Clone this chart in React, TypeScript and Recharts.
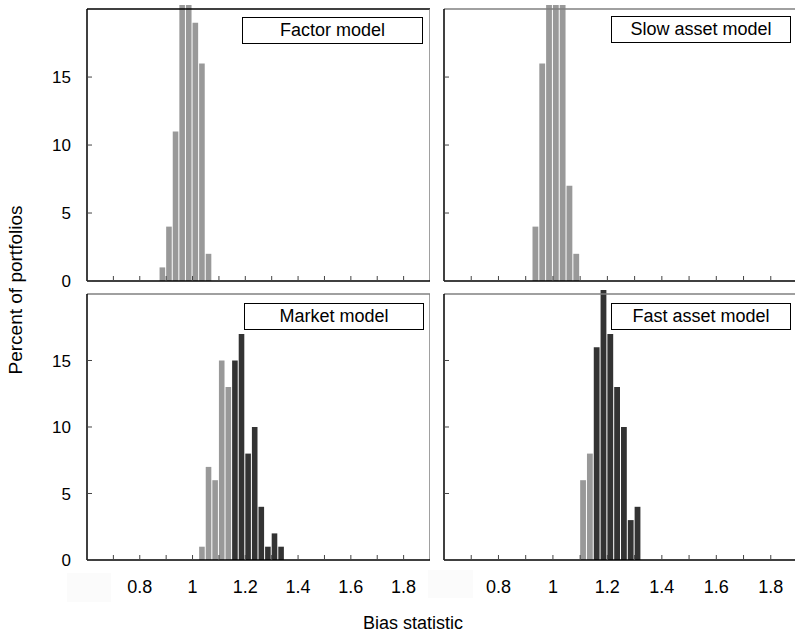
import React from "react";
import { ComposedChart, Bar, Cell, XAxis, YAxis, ReferenceLine } from "recharts";

// histogram bins are 0.025 wide, values are left edges
const BIN = 0.025;
const CUTOFF = 1.15;

const factorBins = [0.875, 0.9, 0.925, 0.95, 0.975, 1.0, 1.025, 1.05];
const factorPct = [1, 4, 11, 24, 23, 19, 16, 2];

const slowBins = [0.925, 0.95, 0.975, 1.0, 1.025, 1.05, 1.075];
const slowPct = [4, 16, 24, 24, 23, 7, 2];

const marketBins = [1.025, 1.05, 1.075, 1.1, 1.125, 1.15, 1.175, 1.2, 1.225, 1.25, 1.275, 1.3, 1.325];
const marketPct = [1, 7, 6, 15, 13, 15, 17, 8, 10, 4, 1, 2, 1];

const fastBins = [1.1, 1.125, 1.15, 1.175, 1.2, 1.225, 1.25, 1.275, 1.3];
const fastPct = [6, 8, 16, 23, 17, 13, 10, 3, 4];

const xTicks = [0.7, 0.8, 0.9, 1.0, 1.1, 1.2, 1.3, 1.4, 1.5, 1.6, 1.7, 1.8];
const xLabelled = [0.8, 1.0, 1.2, 1.4, 1.6, 1.8];
const yTicks = [0, 5, 10, 15];

const FONT = '"Liberation Sans", Arial, Helvetica, sans-serif';
const LIGHT = "#999999";
const DARK = "#333333";

function Panel({ bins, pct, shade, left, top, yw, pw, ph, xh, xLabels, yLabels, topStroke }: any) {
  const data = bins.map((b: number, i: number) => ({
    x: +(b + BIN / 2).toFixed(4),
    pct: pct[i],
  }));
  const barSize = (pw / 1.3) * BIN - 1;
  return (
    <div style={{ position: "absolute", left, top }}>
      <ComposedChart
        width={yw + pw}
        height={ph + xh}
        data={data}
        margin={{ top: 0, right: 0, bottom: 0, left: 0 }}
        style={{ fontFamily: FONT }}
      >
        <XAxis
          dataKey="x"
          type="number"
          domain={[0.6, 1.9]}
          allowDataOverflow
          ticks={xTicks}
          interval={0}
          height={xh}
          tickSize={-5}
          tickMargin={xLabels ? 25 : 0}
          tickFormatter={(t: number) =>
            xLabels && xLabelled.some((v) => Math.abs(v - t) < 1e-6) ? String(t) : ""
          }
          axisLine={{ stroke: "#000", strokeWidth: 1.5 }}
          tickLine={{ stroke: "#444", strokeWidth: 1 }}
          tick={{ fill: "#000", fontSize: 18 }}
        />
        <YAxis
          type="number"
          domain={[0, 20.3]}
          allowDataOverflow
          ticks={yTicks}
          interval={0}
          width={yw}
          tickSize={-5}
          tickMargin={21}
          tickFormatter={(t: number) => (yLabels ? String(t) : "")}
          axisLine={false}
          tickLine={{ stroke: "#444", strokeWidth: 1 }}
          tick={{ fill: "#000", fontSize: 17 }}
        />
        <ReferenceLine segment={[{ x: 0.6, y: 20 }, { x: 1.9, y: 20 }]} stroke={topStroke} strokeWidth={1.5} />
        <ReferenceLine segment={[{ x: 1.9, y: 0 }, { x: 1.9, y: 20 }]} stroke="#808080" strokeWidth={1.5} />
        <ReferenceLine segment={[{ x: 0.6, y: 0 }, { x: 0.6, y: 20 }]} stroke="#000" strokeWidth={1.5} />
        <Bar dataKey="pct" barSize={barSize} isAnimationActive={false}>
          {data.map((d: any, i: number) => (
            <Cell key={i} fill={shade && d.x > CUTOFF ? DARK : LIGHT} />
          ))}
        </Bar>
      </ComposedChart>
    </div>
  );
}

function Tag({ text, left, top, width, height }: any) {
  return (
    <div
      style={{
        position: "absolute",
        left,
        top,
        width,
        height,
        boxSizing: "border-box",
        border: "1.5px solid #000",
        background: "#fff",
        display: "flex",
        alignItems: "center",
        justifyContent: "center",
        fontFamily: FONT,
        fontSize: 18,
        color: "#000",
      }}
    >
      {text}
    </div>
  );
}

export default function App() {
  return (
    <div
      style={{
        position: "absolute",
        left: 0,
        top: 0,
        width: 795,
        height: 635,
        overflow: "hidden",
        background: "#fff",
      }}
    >
      {/* faded leftovers of the 0.6 labels */}
      <div style={{ position: "absolute", left: 67, top: 573, width: 44, height: 29, background: "#fbfbfb" }} />
      <div style={{ position: "absolute", left: 428, top: 570, width: 45, height: 28, background: "#fbfbfb" }} />

      <Panel bins={factorBins} pct={factorPct} shade={false} left={0} top={5} yw={87} pw={343} ph={276} xh={10} xLabels={false} yLabels topStroke="#000" />
      <Panel bins={slowBins} pct={slowPct} shade={false} left={440} top={5} yw={4} pw={354} ph={276} xh={10} xLabels={false} yLabels={false} topStroke="#808080" />
      <Panel bins={marketBins} pct={marketPct} shade left={0} top={290} yw={87} pw={343} ph={270} xh={45} xLabels yLabels topStroke="#808080" />
      <Panel bins={fastBins} pct={fastPct} shade left={440} top={290} yw={4} pw={354} ph={270} xh={45} xLabels yLabels={false} topStroke="#808080" />

      <Tag text="Factor model" left={242} top={17} width={181} height={27} />
      <Tag text="Slow asset model" left={611} top={16} width={180} height={27} />
      <Tag text="Market model" left={244} top={303} width={180} height={27} />
      <Tag text="Fast asset model" left={611} top={303} width={180} height={27} />

      <svg width={795} height={635} style={{ position: "absolute", left: 0, top: 0, pointerEvents: "none" }}>
        <text x={0} y={0} transform="translate(22,290) rotate(-90)" textAnchor="middle" fontFamily={FONT} fontSize={19} fill="#000">
          Percent of portfolios
        </text>
        <text x={413} y={629} textAnchor="middle" fontFamily={FONT} fontSize={18} fill="#000">
          Bias statistic
        </text>
      </svg>
    </div>
  );
}
